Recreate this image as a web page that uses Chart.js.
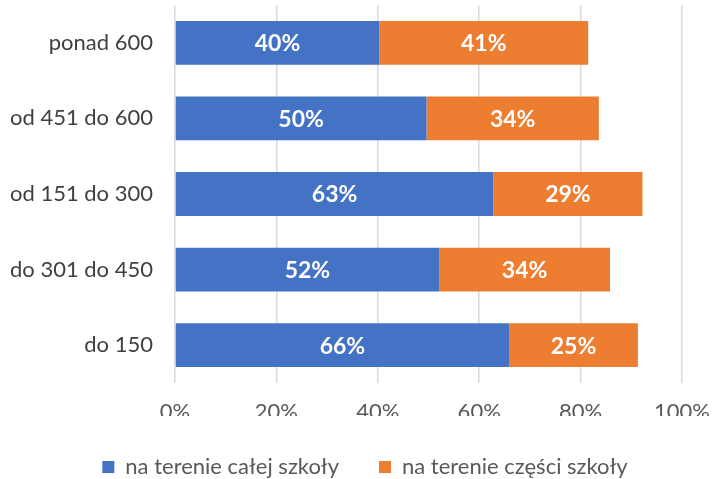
<!DOCTYPE html>
<html lang="pl">

<head>
    <meta charset="UTF-8">
    <title>Wykres</title>
    <script src="https://cdn.jsdelivr.net/npm/chart.js"></script>
    <style>
        body { margin: 0; background: #fff; }
        #wrap { width: 713px; height: 479px; }
    </style>
</head>

<body>
    <div id="wrap"><canvas id="chart"></canvas></div>

    <script>
        // dane (w %)
        const categories = ['ponad 600', 'od 451 do 600', 'od 151 do 300', 'do 301 do 450', 'do 150'];
        const calejSzkoly = [40.3, 49.6, 62.8, 52.1, 65.9];
        const czesciSzkoly = [41.2, 34.0, 29.4, 33.7, 25.4];
        const xTicks = [0, 20, 40, 60, 80, 100];

        const FONT = 'Lato, "Open Sans", sans-serif';

        // napisy z wartościami na środku słupków
        const barLabels = {
            id: 'barLabels',
            afterDatasetsDraw(chart) {
                const ctx = chart.ctx;
                ctx.save();
                ctx.fillStyle = '#ffffff';
                ctx.font = 'bold 23px ' + FONT;
                ctx.textAlign = 'center';
                ctx.textBaseline = 'middle';
                chart.data.datasets.forEach((ds, i) => {
                    chart.getDatasetMeta(i).data.forEach((bar, j) => {
                        const cx = (bar.x + bar.base) / 2;
                        ctx.fillText(Math.round(ds.data[j]) + '%', cx, bar.y + 1);
                    });
                });
                ctx.restore();
            }
        };

        // legenda w oryginale jest przesunięta nieco w prawo
        const shiftLegend = {
            id: 'shiftLegend',
            afterLayout(chart) {
                chart.legend.left += 24;
                chart.legend.right += 24;
            }
        };

        new Chart(document.getElementById('chart'), {
            type: 'bar',
            data: {
                labels: categories,
                datasets: [{
                    label: 'na terenie całej szkoły',
                    data: calejSzkoly,
                    backgroundColor: '#4472C4'
                }, {
                    label: 'na terenie części szkoły',
                    data: czesciSzkoly,
                    backgroundColor: '#ED7D31'
                }]
            },
            options: {
                indexAxis: 'y',
                responsive: true,
                maintainAspectRatio: false,
                animation: false,
                datasets: {
                    bar: { categoryPercentage: 1, barPercentage: 0.58 }
                },
                layout: { padding: { top: 5, right: 31, left: 0, bottom: -9 } },
                scales: {
                    x: {
                        stacked: true,
                        min: 0,
                        max: 100,
                        afterBuildTicks: (scale) => { scale.ticks = xTicks.map(v => ({ value: v })); },
                        ticks: {
                            callback: (v) => v + '%',
                            font: { family: FONT, size: 22 },
                            color: '#595959',
                            padding: 16
                        },
                        grid: { color: '#d9d9d9', lineWidth: 1.5, drawTicks: false },
                        border: { display: false },
                        afterFit: (scale) => {
                            scale.height = 33;
                            scale.paddingLeft = 0;
                            scale.paddingRight = 0;
                        }
                    },
                    y: {
                        stacked: true,
                        ticks: {
                            font: { family: FONT, size: 22 },
                            color: '#404040',
                            padding: 14
                        },
                        grid: { display: false },
                        border: { display: false },
                        afterFit: (scale) => {
                            scale.width = 175;
                            scale.paddingTop = 0;
                            scale.paddingBottom = 0;
                        }
                    }
                },
                plugins: {
                    legend: {
                        position: 'bottom',
                        labels: {
                            boxWidth: 12,
                            boxHeight: 12,
                            padding: 40,
                            color: '#595959',
                            font: { family: FONT, size: 22 }
                        }
                    },
                    tooltip: { enabled: false }
                }
            },
            plugins: [barLabels, shiftLegend]
        });
    </script>
</body>

</html>
